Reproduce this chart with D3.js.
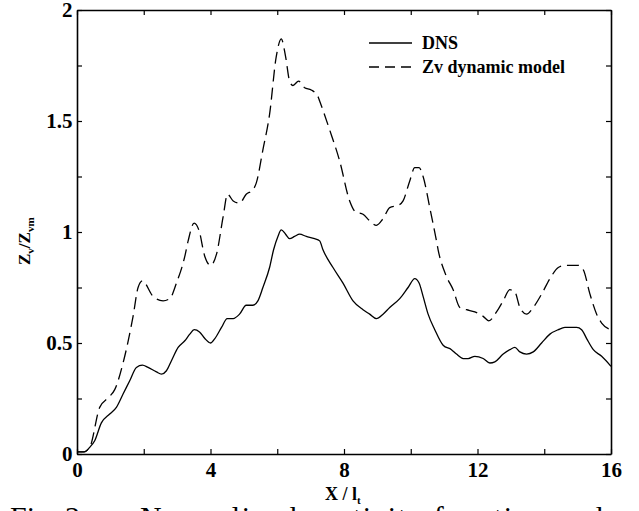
<!DOCTYPE html>
<html>
<head>
<meta charset="utf-8">
<script src="https://cdn.jsdelivr.net/npm/d3@7/dist/d3.min.js"></script>
<style>
  body { margin: 0; background: #fff; }
  svg { display: block; }
  .axis path, .axis line { stroke: #000; }
</style>
</head>
<body>
<script>
// X/l_t positions and Z_v/Z_vm values
var dnsX = [0, 0.23, 0.38, 0.53, 0.73, 0.98, 1.18, 1.38, 1.58, 1.78, 1.96, 2.13, 2.38, 2.53, 2.68, 2.83, 3.03, 3.23, 3.38, 3.51, 3.67, 3.83, 4.0, 4.13, 4.33, 4.5, 4.68, 4.87, 5.07, 5.27, 5.42, 5.57, 5.77, 5.89, 6.02, 6.12, 6.25, 6.37, 6.52, 6.67, 6.87, 7.12, 7.27, 7.37, 7.67, 7.97, 8.27, 8.57, 8.77, 8.97, 9.17, 9.37, 9.67, 9.92, 10.12, 10.25, 10.37, 10.52, 10.72, 10.97, 11.22, 11.37, 11.57, 11.72, 11.92, 12.17, 12.37, 12.52, 12.77, 12.97, 13.12, 13.27, 13.47, 13.67, 13.92, 14.17, 14.42, 14.62, 14.97, 15.12, 15.27, 15.47, 15.72, 16.0];
var dnsY = [0.01, 0.01, 0.03, 0.06, 0.14, 0.18, 0.21, 0.27, 0.33, 0.39, 0.40, 0.39, 0.37, 0.36, 0.375, 0.42, 0.48, 0.51, 0.54, 0.56, 0.55, 0.52, 0.50, 0.52, 0.57, 0.61, 0.61, 0.63, 0.67, 0.67, 0.69, 0.75, 0.84, 0.92, 0.98, 1.01, 0.99, 0.97, 0.98, 0.99, 0.98, 0.97, 0.96, 0.92, 0.84, 0.77, 0.69, 0.65, 0.63, 0.61, 0.63, 0.66, 0.70, 0.75, 0.79, 0.77, 0.71, 0.63, 0.56, 0.49, 0.47, 0.45, 0.43, 0.43, 0.44, 0.43, 0.41, 0.415, 0.45, 0.47, 0.48, 0.46, 0.45, 0.46, 0.50, 0.54, 0.56, 0.57, 0.57, 0.56, 0.52, 0.47, 0.44, 0.395];

var zvX = [0, 0.2, 0.38, 0.68, 0.98, 1.13, 1.38, 1.68, 1.83, 1.96, 2.28, 2.58, 2.78, 2.98, 3.23, 3.33, 3.51, 3.65, 3.83, 4.0, 4.18, 4.38, 4.51, 4.68, 4.87, 5.07, 5.27, 5.37, 5.57, 5.77, 5.97, 6.12, 6.25, 6.37, 6.47, 6.64, 6.82, 7.02, 7.22, 7.27, 7.57, 7.87, 8.17, 8.35, 8.57, 8.77, 8.97, 9.17, 9.37, 9.62, 9.77, 9.97, 10.12, 10.25, 10.37, 10.57, 10.77, 10.82, 11.07, 11.27, 11.47, 11.67, 11.92, 12.17, 12.34, 12.57, 12.77, 12.97, 13.12, 13.27, 13.47, 13.67, 13.92, 14.17, 14.42, 14.62, 14.87, 15.02, 15.17, 15.37, 15.57, 15.72, 16.0];
var zvY = [0.01, 0.01, 0.03, 0.21, 0.26, 0.29, 0.41, 0.62, 0.75, 0.78, 0.71, 0.69, 0.70, 0.77, 0.89, 0.96, 1.04, 1.01, 0.89, 0.85, 0.90, 1.07, 1.17, 1.14, 1.13, 1.17, 1.19, 1.22, 1.37, 1.53, 1.79, 1.87, 1.79, 1.68, 1.66, 1.68, 1.65, 1.64, 1.61, 1.59, 1.46, 1.32, 1.14, 1.09, 1.08, 1.05, 1.03, 1.06, 1.11, 1.12, 1.14, 1.23, 1.29, 1.29, 1.25, 1.11, 0.96, 0.92, 0.80, 0.74, 0.66, 0.65, 0.64, 0.62, 0.60, 0.64, 0.69, 0.74, 0.73, 0.66, 0.63, 0.66, 0.72, 0.79, 0.84, 0.85, 0.85, 0.85, 0.83, 0.72, 0.63, 0.59, 0.56];

var xTicks = [0, 4, 8, 12, 16];
var xMinor = [2, 6, 10, 14];
var yTicks = [0, 0.5, 1, 1.5, 2];
var yMinor = [0.25, 0.75, 1.25, 1.75];
var seriesNames = ["DNS", "Zv dynamic model"];

var serif = "'Liberation Serif', 'Times New Roman', serif";

var svgWidth = 639;
var svgHeight = 511;
var margin = { top: 10, right: 28, bottom: 57, left: 77 };
var chartWidth = svgWidth - margin.left - margin.right;
var chartHeight = svgHeight - margin.top - margin.bottom;

var svg = d3.select("body").append("svg")
  .attr("width", svgWidth)
  .attr("height", svgHeight);

var chartGroup = svg.append("g")
  .attr("transform", `translate(${margin.left}, ${margin.top})`);

var x = d3.scaleLinear().domain([0, 16]).range([0, chartWidth]);
var y = d3.scaleLinear().domain([0, 2]).range([chartHeight, 0]);

var allX = xTicks.concat(xMinor);
var allY = yTicks.concat(yMinor);

// bottom axis with labels, ticks pointing inward
chartGroup.append("g").classed("axis", true)
  .attr("transform", `translate(0, ${chartHeight})`)
  .call(d3.axisBottom(x).tickValues(allX).tickSizeInner(-5).tickSizeOuter(0).tickPadding(8)
    .tickFormat(d => xTicks.includes(d) ? d3.format("d")(d) : ""));

// top axis, ticks only
chartGroup.append("g").classed("axis", true)
  .call(d3.axisTop(x).tickValues(allX).tickSizeInner(-5).tickSizeOuter(0).tickFormat(""));

// left axis with labels
chartGroup.append("g").classed("axis", true)
  .call(d3.axisLeft(y).tickValues(allY).tickSizeInner(-5).tickSizeOuter(0).tickPadding(4.5)
    .tickFormat(d => yTicks.includes(d) ? String(d) : ""));

// right axis, ticks only
chartGroup.append("g").classed("axis", true)
  .attr("transform", `translate(${chartWidth}, 0)`)
  .call(d3.axisRight(y).tickValues(allY).tickSizeInner(-5).tickSizeOuter(0).tickFormat(""));

chartGroup.selectAll(".axis text")
  .style("font-family", serif)
  .style("font-weight", "bold")
  .style("font-size", "21px")
  .attr("fill", "#000");
chartGroup.selectAll(".axis path").attr("stroke-width", 1.6);
chartGroup.selectAll(".axis line").attr("stroke-width", 1.2);

var drawLine = d3.line()
  .x(d => x(d[0]))
  .y(d => y(d[1]))
  .curve(d3.curveMonotoneX);

chartGroup.append("path")
  .attr("d", drawLine(d3.zip(dnsX, dnsY)))
  .attr("fill", "none")
  .attr("stroke", "#000")
  .attr("stroke-width", 1.3);

chartGroup.append("path")
  .attr("d", drawLine(d3.zip(zvX, zvY)))
  .attr("fill", "none")
  .attr("stroke", "#000")
  .attr("stroke-width", 1.3)
  .attr("stroke-dasharray", "12,6");

// legend
var legend = chartGroup.append("g").attr("transform", "translate(292, 33)");
seriesNames.forEach(function(name, i) {
  legend.append("line")
    .attr("x1", 0).attr("x2", 43)
    .attr("y1", i * 24).attr("y2", i * 24)
    .attr("stroke", "#000").attr("stroke-width", 1.3)
    .attr("stroke-dasharray", i === 1 ? "10,6" : null);
  legend.append("text")
    .attr("x", 53).attr("y", i * 24 + 6)
    .style("font-family", serif).style("font-weight", "bold").style("font-size", "18px")
    .text(name);
});

// y axis title
var yTitle = svg.append("text")
  .attr("transform", "translate(30, 265) rotate(-90)")
  .style("font-family", serif).style("font-weight", "bold").style("font-size", "17px");
yTitle.append("tspan").text("Z");
yTitle.append("tspan").attr("dy", 4).style("font-size", "11px").text("v");
yTitle.append("tspan").attr("dy", -4).text("/Z");
yTitle.append("tspan").attr("dy", 4).style("font-size", "11px").text("vm");

// x axis title
var xTitle = svg.append("text")
  .attr("x", 325).attr("y", 500)
  .style("font-family", serif).style("font-weight", "bold").style("font-size", "18px");
xTitle.append("tspan").text("X / l");
xTitle.append("tspan").attr("dy", 4).style("font-size", "11px").text("t");

// caption of the page, cut by the bottom edge
svg.append("text")
  .attr("x", 10).attr("y", 527)
  .style("font-family", serif).style("font-size", "30px")
  .text("Fig. 2.");
svg.append("text")
  .attr("x", 140).attr("y", 527)
  .attr("textLength", 463).attr("lengthAdjust", "spacing")
  .style("font-family", serif).style("font-size", "30px")
  .text("Normalized vorticity function and");
</script>
</body>
</html>
